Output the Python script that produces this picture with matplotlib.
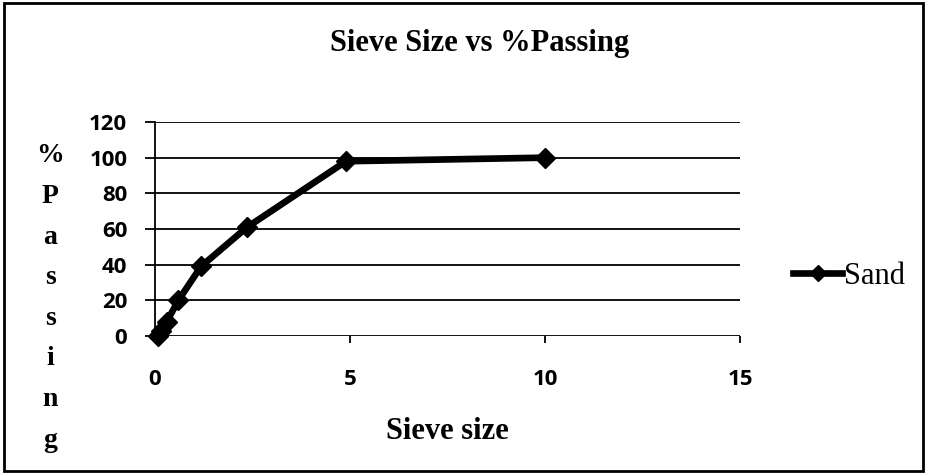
import matplotlib.pyplot as plt
from matplotlib.patches import Rectangle

# Sieve analysis data
sieve_size = [0.075, 0.15, 0.3, 0.6, 1.18, 2.36, 4.9, 10]
passing = [0, 3, 8, 20, 39, 61, 98, 100]
x_ticks = [0, 5, 10, 15]
y_ticks = [0, 20, 40, 60, 80, 100, 120]

serif = ["Liberation Serif", "DejaVu Serif"]
sans = ["Open Sans", "DejaVu Sans"]

W, H = 927, 473
fig = plt.figure(figsize=(W / 100, H / 100), dpi=100)
ax = fig.add_axes([155 / W, 1 - 336 / H, (740 - 155) / W, (336 - 122) / H])

line, = ax.plot(sieve_size, passing, color="black", lw=4.8, marker="D",
                markersize=10, label="Sand", clip_on=False, zorder=3)

ax.set_xlim(0, 15)
ax.set_ylim(0, 120)
ax.set_xticks(x_ticks)
ax.set_yticks(y_ticks)
ax.yaxis.grid(True, color="black", lw=1.3)
ax.set_axisbelow(True)
for s in ["top", "right", "bottom"]:
    ax.spines[s].set_visible(False)
ax.spines["left"].set_linewidth(1.3)
ax.tick_params(axis="y", direction="out", length=7, width=1.3, pad=13)
ax.tick_params(axis="x", direction="out", length=5, width=1.3, pad=19)
for lab in ax.get_xticklabels() + ax.get_yticklabels():
    lab.set_fontfamily(sans)
    lab.set_fontsize(16)
    lab.set_fontweight("bold")

fig.text(480 / W, 1 - 43 / H, "Sieve Size vs %Passing", ha="center", va="center",
         family=serif, fontsize=22, fontweight="bold")
fig.text(447 / W, 1 - 431 / H, "Sieve size", ha="center", va="center",
         family=serif, fontsize=22, fontweight="bold")
fig.text(50 / W, 1 - 298 / H, "\n".join("%Passing"), ha="center", va="center",
         family=serif, fontsize=20, fontweight="bold", linespacing=1.82)

leg = ax.legend(handles=[line], loc="center left", bbox_to_anchor=(1.065, 0.28),
                frameon=False, handlelength=1.6, handletextpad=0.05,
                borderpad=0, markerscale=0.8, prop={"family": serif, "size": 22})

# outer chart border
fig.patches.append(Rectangle((0.004, 0.004), 0.992, 0.99, transform=fig.transFigure,
                             fill=False, edgecolor="black", lw=2))

fig.savefig("out.png", dpi=100)
